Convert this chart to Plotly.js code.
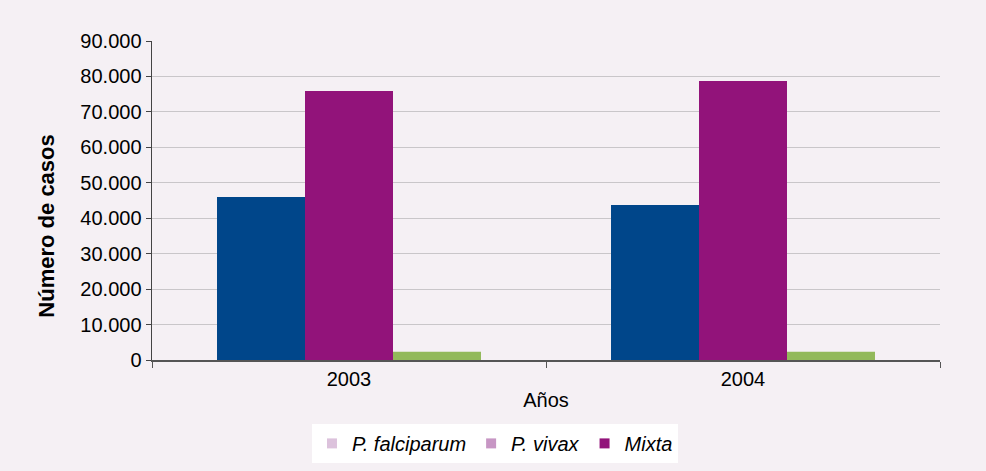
<!DOCTYPE html>
<html><head><meta charset="utf-8">
<script src="https://cdn.plot.ly/plotly-3.0.1.min.js"></script>
<style>html,body{margin:0;padding:0;background:#f5f0f4;}</style>
</head><body>
<div id="chart" style="width:986px;height:471px;"></div>
<script>
const years = ['2003', '2004'];
const falciparum = [46000, 43700];
const mixta = [75900, 78700];
const vivax = [2300, 2300];
const seriesNames = ['P. falciparum', 'P. vivax', 'Mixta'];
const barColors = ['#00468a', '#92137a', '#92b95a'];
const legendColors = ['#dcc2dc', '#c796c4', '#92137a'];
const yTitle = 'Número de casos';

const barSeries = [falciparum, mixta, vivax];
const traces = barSeries.map((vals, i) => ({
  type: 'bar', x: years, y: vals, marker: {color: barColors[i]},
  showlegend: false, hoverinfo: 'x+y'
}));
seriesNames.forEach((n, i) => traces.push({
  type: 'scatter', mode: 'markers', x: [null], y: [null], name: '<i>' + n + '</i>',
  marker: {color: legendColors[i], symbol: 'square', size: 10}, showlegend: true
}));

const layout = {
  width: 986, height: 471,
  paper_bgcolor: '#f5f0f4', plot_bgcolor: 'rgba(0,0,0,0)',
  margin: {l: 152, r: 46, t: 41, b: 111},
  barmode: 'group', bargap: 0.33, bargroupgap: 0,
  separators: ',.',
  font: {family: 'Liberation Sans, Arial, sans-serif', size: 20, color: '#000'},
  xaxis: {
    type: 'category', range: [-0.5, 1.5], automargin: false,
    showline: true, linecolor: '#555', linewidth: 2,
    ticks: 'outside', tickson: 'boundaries', ticklen: 6, tickcolor: '#555',
    showgrid: false,
    title: {text: 'Años', font: {size: 20}, standoff: 4},
    tickfont: {size: 20}
  },
  yaxis: {
    range: [0, 90000], dtick: 10000, tickformat: ',d', automargin: false,
    showline: true, linecolor: '#444', linewidth: 1.5,
    ticks: 'outside', ticklen: 5, tickcolor: '#444',
    gridcolor: '#c9c6c9', gridwidth: 1, zeroline: false,
    tickfont: {size: 20}
  },
  annotations: [{
    text: '<b>' + yTitle + '</b>', textangle: -90, showarrow: false,
    xref: 'paper', yref: 'paper', x: -0.135, y: 0.42,
    xanchor: 'center', yanchor: 'middle', font: {size: 22}
  }],
  legend: {
    orientation: 'h', xref: 'container', yref: 'container',
    x: 0.502, xanchor: 'center', y: 0.1, yanchor: 'top',
    bgcolor: '#ffffff', font: {size: 20}, traceorder: 'normal',
    itemwidth: 30
  }
};
Plotly.newPlot('chart', traces, layout, {displayModeBar: false, staticPlot: true});
</script>
</body></html>
